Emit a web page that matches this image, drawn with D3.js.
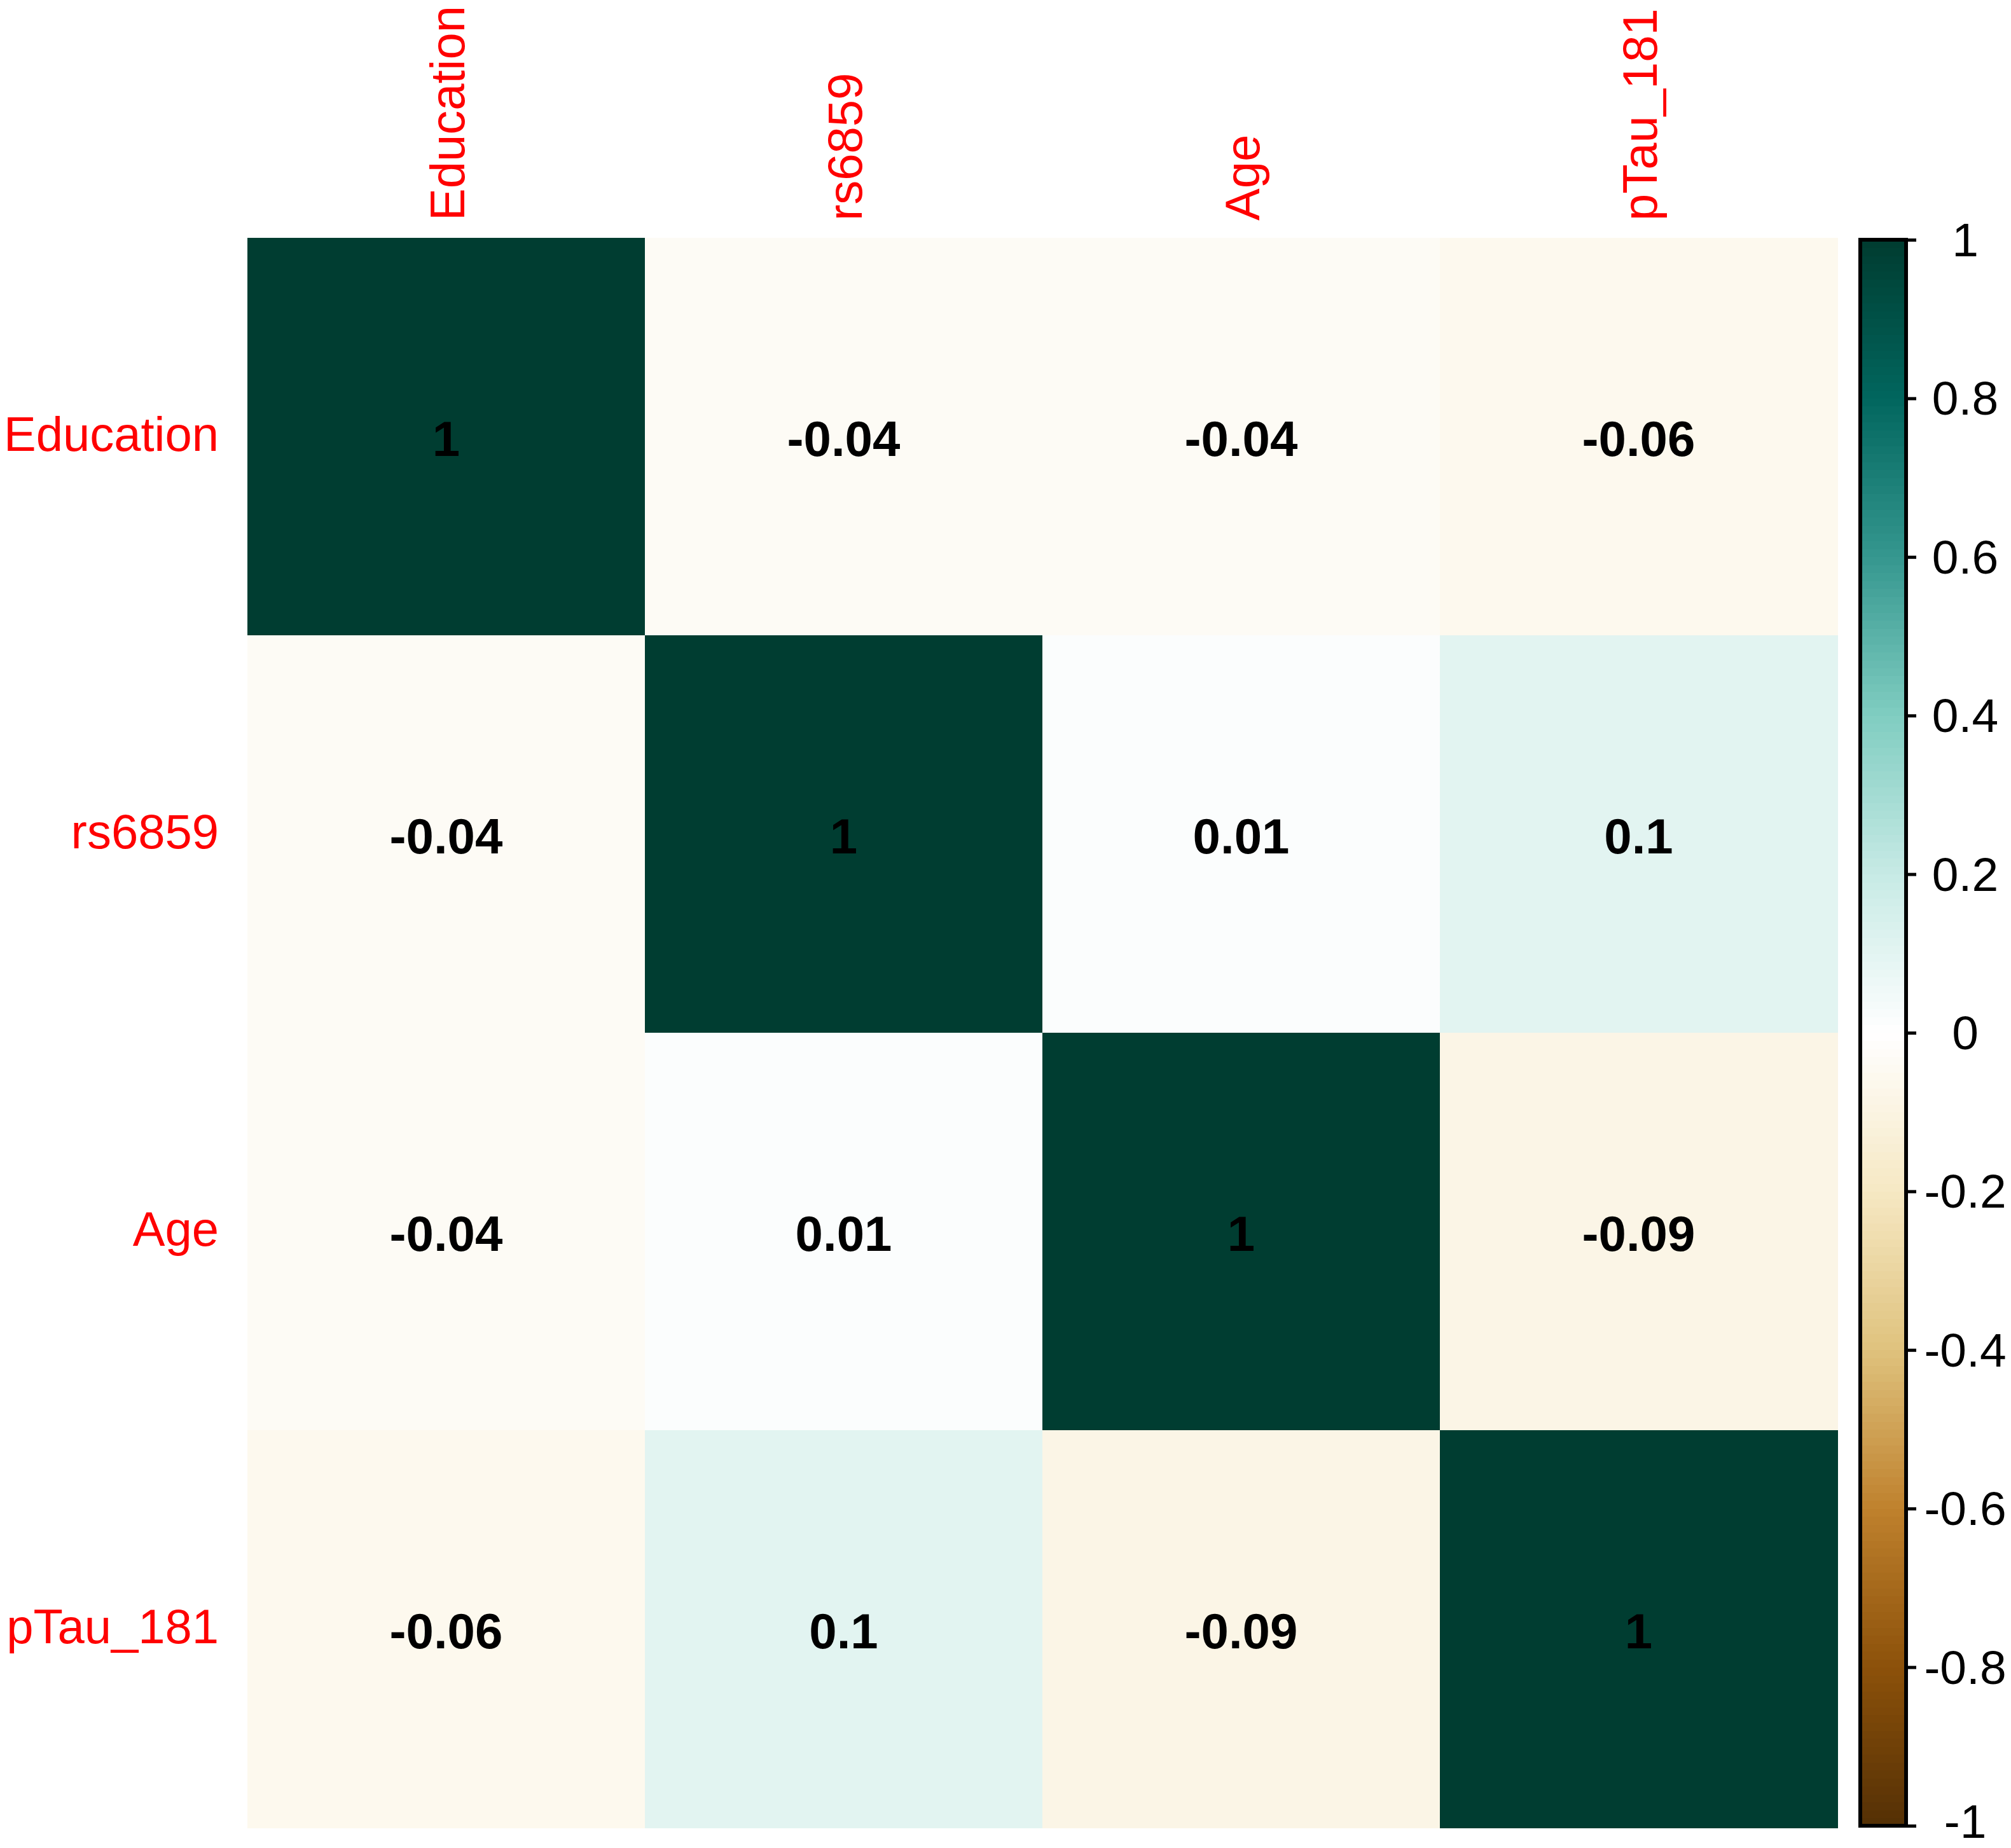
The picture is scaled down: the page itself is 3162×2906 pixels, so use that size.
<!DOCTYPE html>
<html>
<head>
<meta charset="utf-8">
<script src="https://cdn.jsdelivr.net/npm/d3@7"></script>
<style>
  html, body { margin: 0; padding: 0; background: #ffffff; }
  svg { display: block; }
</style>
</head>
<body>
<script>
// ---- data ----
const variables = ["Education", "rs6859", "Age", "pTau_181"];
const corrEducation = [1, -0.04, -0.04, -0.06];
const corrRs6859    = [-0.04, 1, 0.01, 0.1];
const corrAge       = [-0.04, 0.01, 1, -0.09];
const corrPTau181   = [-0.06, 0.1, -0.09, 1];
const colorbarTicks = [1, 0.8, 0.6, 0.4, 0.2, 0, -0.2, -0.4, -0.6, -0.8, -1];
const paletteBrBG = ["#543005", "#8C510A", "#BF812D", "#DFC27D", "#F6E8C3", "#FFFFFF",
                     "#C7EAE5", "#80CDC1", "#35978F", "#01665E", "#003C30"];

const rows = [corrEducation, corrRs6859, corrAge, corrPTau181];
const cells = [];
rows.forEach((r, i) => r.forEach((v, j) => cells.push({ row: variables[i], col: variables[j], v })));

// ---- layout ----
const W = 3162, H = 2906;
const gridLeft = 389, gridTop = 374, gridSize = 2500;
const barLeft = 2925, barWidth = 72, barTop = 377, barBottom = 2871;
const font = "'Liberation Sans', Arial, Helvetica, sans-serif";

const svg = d3.select("body").append("svg")
  .attr("width", W).attr("height", H)
  .attr("viewBox", `0 0 ${W} ${H}`);

const x = d3.scaleBand().domain(variables).range([gridLeft, gridLeft + gridSize]).padding(0);
const y = d3.scaleBand().domain(variables).range([gridTop, gridTop + gridSize]).padding(0);

const color = d3.scaleLinear()
  .domain(d3.range(paletteBrBG.length).map(i => -1 + 2 * i / (paletteBrBG.length - 1)))
  .range(paletteBrBG)
  .interpolate(d3.interpolateRgb);

// discrete 200-colour palette like corrplot
const nCol = 200;
const binColor = v => {
  const idx = Math.min(nCol - 1, Math.floor((v + 1) / 2 * nCol));
  return color(-1 + (idx + 0.5) * 2 / nCol);
};

// cells
svg.append("g").selectAll("rect").data(cells).join("rect")
  .attr("x", d => x(d.col))
  .attr("y", d => y(d.row))
  .attr("width", x.bandwidth() + 0.5)
  .attr("height", y.bandwidth() + 0.5)
  .attr("fill", d => binColor(d.v))
  .attr("shape-rendering", "crispEdges");

// cell values
svg.append("g").selectAll("text").data(cells).join("text")
  .attr("x", d => x(d.col) + x.bandwidth() / 2)
  .attr("y", d => y(d.row) + y.bandwidth() / 2 + 30)
  .attr("text-anchor", "middle")
  .attr("font-family", font)
  .attr("font-weight", "bold")
  .attr("font-size", 78)
  .attr("fill", "#000000")
  .text(d => String(d.v));

// row labels
svg.append("g").selectAll("text").data(variables).join("text")
  .attr("x", gridLeft - 45)
  .attr("y", d => y(d) + y.bandwidth() / 2 + 22)
  .attr("text-anchor", "end")
  .attr("font-family", font)
  .attr("font-size", 76)
  .attr("fill", "#FF0000")
  .text(d => d);

// column labels (rotated)
svg.append("g").selectAll("text").data(variables).join("text")
  .attr("transform", d => `translate(${x(d) + x.bandwidth() / 2 + 28},${gridTop - 27}) rotate(-90)`)
  .attr("text-anchor", "start")
  .attr("font-family", font)
  .attr("font-size", 76)
  .attr("fill", "#FF0000")
  .text(d => d);

// colour bar
const yBar = d3.scaleLinear().domain([-1, 1]).range([barBottom, barTop]);
const steps = d3.range(nCol).map(i => -1 + i * 2 / nCol);
svg.append("g").selectAll("rect").data(steps).join("rect")
  .attr("x", barLeft)
  .attr("y", d => yBar(d + 2 / nCol))
  .attr("width", barWidth)
  .attr("height", d => yBar(d) - yBar(d + 2 / nCol) + 0.6)
  .attr("fill", d => color(d + 1 / nCol))
  .attr("shape-rendering", "crispEdges");

svg.append("rect")
  .attr("x", barLeft).attr("y", barTop)
  .attr("width", barWidth).attr("height", barBottom - barTop)
  .attr("fill", "none").attr("stroke", "#000").attr("stroke-width", 6);

const axisG = svg.append("g")
  .attr("transform", `translate(${barLeft + barWidth},0)`)
  .call(d3.axisRight(yBar).tickValues(colorbarTicks).tickSize(16).tickFormat(d => String(d)));
axisG.select(".domain").remove();
axisG.selectAll(".tick line").attr("stroke", "#000").attr("stroke-width", 5);
axisG.selectAll(".tick text")
  .attr("x", 3090 - (barLeft + barWidth))
  .attr("dy", d => d === -1 ? "0.24em" : "0.34em")
  .attr("text-anchor", "middle")
  .attr("font-family", font)
  .attr("font-size", 75)
  .attr("fill", "#000");
</script>
</body>
</html>
